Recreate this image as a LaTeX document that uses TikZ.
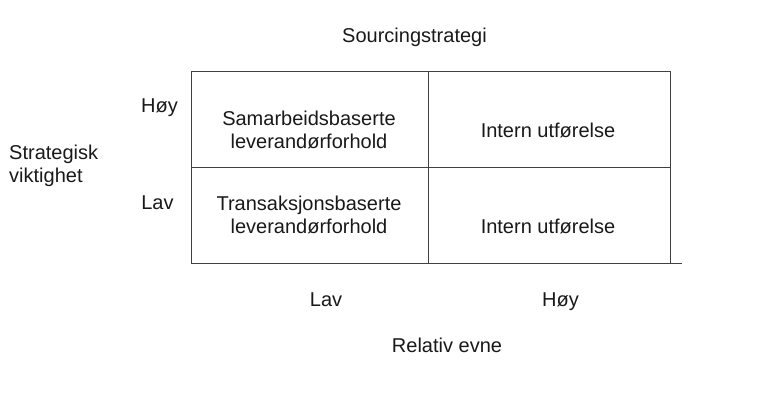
\documentclass[tikz,border=0pt]{standalone}
\usepackage{fontspec}
\setmainfont{Liberation Sans}
\begin{document}
\begin{tikzpicture}[x=1pt,y=-1pt,
  lbl/.style={font=\fontsize{20}{23}\selectfont, inner sep=0pt, anchor=base, text=black!90},
  cell/.style={font=\fontsize{20}{23}\selectfont, inner sep=0pt, anchor=base, align=center, text=black!90},
  grid/.style={draw=black!75, line width=1pt}]
\useasboundingbox (0,0) rectangle (768,416);
\coordinate (tl) at (191,71);
\coordinate (tm) at (428,71);
\coordinate (tr) at (670,71);
\coordinate (ml) at (191,167);
\coordinate (mr) at (670,167);
\coordinate (bl) at (191,263);
\coordinate (bm) at (428,263);
\coordinate (br) at (670,263);
\coordinate (bx) at (682,263);
\draw[grid] (tl) -- (tr) -- (br);
\draw[grid] (tl) -- (bl) -- (bx);
\draw[grid] (tm) -- (bm);
\draw[grid] (ml) -- (mr);
\node[lbl] (title) at (414.5,42) {Sourcingstrategi};
\node[lbl] (yhigh) at (159.5,112) {Høy};
\node[lbl] (ylow) at (157.5,209) {Lav};
\node[lbl, anchor=base west, align=left] (ylab) at (9,182) {Strategisk\\viktighet};
\node[cell] (c11) at (309,148) {Samarbeidsbaserte\\leverandørforhold};
\node[lbl] (c12) at (548,137) {Intern utførelse};
\node[cell] (c21) at (309,233) {Transaksjonsbaserte\\leverandørforhold};
\node[lbl] (c22) at (548,233) {Intern utførelse};
\node[lbl] (xlow) at (326,306) {Lav};
\node[lbl] (xhigh) at (560.5,306) {Høy};
\node[lbl] (xlab) at (447,352) {Relativ evne};
\end{tikzpicture}
\end{document}
